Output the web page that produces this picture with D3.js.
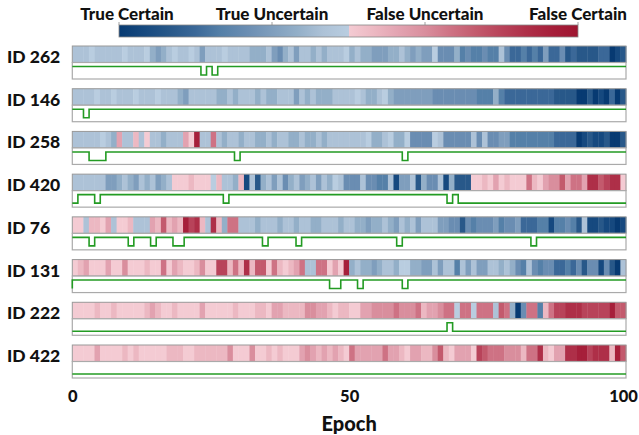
<!DOCTYPE html>
<html>
<head>
<meta charset="UTF-8">
<title>Certainty per epoch</title>
<style>
  body { margin: 0; background: #fff; }
  svg text { font-family: Lato, "DejaVu Sans", sans-serif; font-weight: 900; fill: #111; }
</style>
</head>
<body>
<svg id="chart" width="639" height="435"></svg>
<script src="https://cdnjs.cloudflare.com/ajax/libs/d3/7.8.5/d3.min.js"></script>
<script>
// sample ids, top to bottom
const ids = ["ID 262", "ID 146", "ID 258", "ID 420", "ID 76", "ID 131", "ID 222", "ID 422"];

// legend labels on the colour bar
const legendLabels = ["True Certain", "True Uncertain", "False Uncertain", "False Certain"];
const axisTicks = [0, 50, 100];

// per-epoch certainty level: negative = true (blue), positive = false (red), |v| 1..10 = uncertain..certain
const heat262 = [
  -2,-2,-2,-1,-2,-2,-2,-2,-2,-1, -2,-2,-2,-1,-3,-4,-3,-2,-1,-2,
  -2,-1,-2,-4,-2,-2,-2,-1,-2,-2, -2,-2,-3,-3,-3,-2,-4,-5,-3,-2,
  -4,-2,-2,-3,-2,-3,-2,-2,-2,-1, -3,-2,-3,-3,-4,-4,-4,-3,-3,-2,
  -3,-4,-3,-4,-4,-1,-5,-5,-5,-3, -6,-5,-6,-6,-5,-6,-6,-2,-5,-7,
  -7,-6,-7,-6,-7,-4,-7,-7,-5,-8, -7,-8,-8,-8,-8,-7,-7,-10,-9,-8
];
const heat146 = [
  -2,-2,-2,-2,-1,-2,-2,-1,-2,-2, -2,-1,-2,-2,-2,-1,-2,-2,-2,-3,
  -4,-2,-2,-2,-2,-2,-3,-3,-2,-3, -2,-2,-2,-3,-2,-3,-3,-2,-2,-2,
  -4,-2,-3,-2,-3,-3,-3,-2,-2,-2, -2,-1,-2,-3,-3,-2,-1,-3,-4,-4,
  -4,-4,-4,-4,-4,-5,-5,-5,-5,-5, -5,-5,-5,-6,-6,-6,-3,-6,-7,-7,
  -7,-7,-7,-7,-7,-7,-7,-8,-8,-8, -8,-10,-10,-8,-10,-9,-10,-7,-10,-8
];
const heat258 = [
  -2,-2,-2,-2,-2,-1,-2,-3,3,-2, -2,2,-2,1,-2,-2,-3,-2,-2,-2,
  3,1,9,-2,-2,5,-2,-3,-2,-2, -3,-2,-2,-3,-3,-2,-3,-2,-2,-3,
  -3,-2,-3,-3,-2,-3,-2,-2,-2,-2, -2,-2,-2,-1,-3,-3,-2,-1,-3,-3,
  -1,-5,-5,-5,-5,-1,-2,-5,-5,-5, -5,-5,-2,-5,-2,-5,-5,-4,-4,-6,
  -6,-6,-6,-6,-6,-6,-6,-7,-7,-7, -7,-10,-9,-8,-9,-9,-8,-10,-10,-8
];
const heat420 = [
  -2,-2,-2,-2,-2,-2,-4,-4,-3,-2, -3,-4,-2,-3,-2,-4,-3,-2,1,1,
  1,2,1,1,1,-1,2,-2,-2,-3, 2,-9,-2,-8,-3,-2,-4,-2,-5,-3,
  -2,-4,-3,-2,-4,-2,-3,-1,-2,-5, -5,-5,-2,-5,-5,-6,-6,-2,-9,-4,
  -4,-2,-8,-3,-5,-5,-2,-9,-3,-8, -8,-8,1,1,2,1,3,1,2,1,
  1,1,5,2,1,3,4,4,6,3, 5,5,3,8,8,6,7,8,8,1
];
const heat76 = [
  1,1,-2,2,2,1,3,-2,1,1, 2,-2,-2,-2,3,2,6,2,3,2,
  9,7,8,2,-2,8,2,-3,5,5, -2,-2,-2,-3,-2,-2,-2,-3,-2,-2,
  -3,-2,-2,-3,-3,-2,-2,-2,-3,-2, -2,-3,-3,-4,-3,-3,-2,-3,-4,-2,
  -3,-2,-4,-2,-2,-2,-4,-4,-5,-5, -8,-5,-6,-5,-5,-5,-4,-6,-5,-5,
  -4,-7,-7,-7,-6,-6,-9,-6,-6,-5, -6,-8,-2,-9,-9,-8,-9,-9,-10,-9
];
const heat131 = [
  1,2,3,1,1,1,3,1,1,4, 1,1,1,2,1,1,5,1,3,2,
  1,1,2,4,1,1,7,7,2,5, 2,8,2,6,6,1,5,2,1,2,
  3,5,-2,-2,5,5,1,3,1,9, -3,-2,-3,-3,-4,-3,-2,-2,-3,-1,
  -1,-3,-3,-4,-4,-2,-4,-2,-2,-6, -2,-4,-2,-4,-4,-2,-2,-3,-2,-3,
  -5,-6,-2,-5,-6,-5,-5,-7,-7,-6, -7,-5,-8,-5,-5,-9,-5,-8,-10,-2
];
const heat222 = [
  1,1,1,1,2,1,1,2,1,1, 1,1,1,2,3,2,1,1,2,1,
  1,1,1,3,1,1,1,1,1,2, 1,1,1,2,2,1,3,3,2,2,
  2,2,4,4,3,3,2,1,2,2, 1,1,3,3,4,4,4,4,5,4,
  4,4,5,2,3,3,4,5,5,-1, 5,5,-1,5,5,5,-2,6,5,-3,
  -10,-5,5,5,-6,2,5,7,7,8, 8,8,7,7,7,7,7,9,6,6
];
const heat422 = [
  1,1,1,1,3,1,1,1,1,2, 1,2,1,1,1,1,1,2,2,2,
  1,1,2,2,2,2,2,2,4,1, 1,1,4,1,1,2,1,2,1,1,
  1,3,4,3,2,3,2,3,2,1, 5,3,3,3,3,3,5,3,3,2,
  1,3,3,2,2,4,6,2,1,3, 3,3,1,7,6,5,5,5,4,4,
  4,2,5,5,8,2,1,3,3,8, 8,9,9,7,8,8,8,2,9,6
];

// green step trace per epoch (1 = up, 0 = down)
const trace262 = [
  1,1,1,1,1,1,1,1,1,1, 1,1,1,1,1,1,1,1,1,1,
  1,1,1,1,0,1,0,1,1,1, 1,1,1,1,1,1,1,1,1,1,
  1,1,1,1,1,1,1,1,1,1, 1,1,1,1,1,1,1,1,1,1,
  1,1,1,1,1,1,1,1,1,1, 1,1,1,1,1,1,1,1,1,1,
  1,1,1,1,1,1,1,1,1,1, 1,1,1,1,1,1,1,1,1,1
];
const trace146 = [
  1,1,1,0,1,1,1,1,1,1, 1,1,1,1,1,1,1,1,1,1,
  1,1,1,1,1,1,1,1,1,1, 1,1,1,1,1,1,1,1,1,1,
  1,1,1,1,1,1,1,1,1,1, 1,1,1,1,1,1,1,1,1,1,
  1,1,1,1,1,1,1,1,1,1, 1,1,1,1,1,1,1,1,1,1,
  1,1,1,1,1,1,1,1,1,1, 1,1,1,1,1,1,1,1,1,1
];
const trace258 = [
  1,1,1,1,0,0,0,1,1,1, 1,1,1,1,1,1,1,1,1,1,
  1,1,1,1,1,1,1,1,1,1, 0,1,1,1,1,1,1,1,1,1,
  1,1,1,1,1,1,1,1,1,1, 1,1,1,1,1,1,1,1,1,1,
  0,1,1,1,1,1,1,1,1,1, 1,1,1,1,1,1,1,1,1,1,
  1,1,1,1,1,1,1,1,1,1, 1,1,1,1,1,1,1,1,1,1
];
const trace420 = [
  0,0,1,1,1,0,1,1,1,1, 1,1,1,1,1,1,1,1,1,1,
  1,1,1,1,1,1,1,1,0,1, 1,1,1,1,1,1,1,1,1,1,
  1,1,1,1,1,1,1,1,1,1, 1,1,1,1,1,1,1,1,1,1,
  1,1,1,1,1,1,1,1,0,1, 0,0,0,0,0,0,0,0,0,0,
  0,0,0,0,0,0,0,0,0,0, 0,0,0,0,0,0,0,0,0,0
];
const trace76 = [
  1,1,1,1,0,1,1,1,1,1, 1,0,1,1,1,0,1,1,1,0,
  0,1,1,1,1,1,1,1,1,1, 1,1,1,1,1,0,1,1,1,1,
  1,0,1,1,1,1,1,1,1,1, 1,1,1,1,1,1,1,1,1,0,
  1,1,1,1,1,1,1,1,1,1, 1,1,1,1,1,1,1,1,1,1,
  1,1,1,0,1,1,1,1,1,1, 1,1,1,1,1,1,1,1,1,1
];
const trace131 = [
  0,1,1,1,1,1,1,1,1,1, 1,1,1,1,1,1,1,1,1,1,
  1,1,1,1,1,1,1,1,1,1, 1,1,1,1,1,1,1,1,1,1,
  1,1,1,1,1,1,1,0,0,1, 1,1,0,1,1,1,1,1,1,1,
  0,1,1,1,1,1,1,1,1,1, 1,1,1,1,1,1,1,1,1,1,
  1,1,1,1,1,1,1,1,1,1, 1,1,1,1,1,1,1,1,1,1
];
const trace222 = [
  0,0,0,0,0,0,0,0,0,0, 0,0,0,0,0,0,0,0,0,0,
  0,0,0,0,0,0,0,0,0,0, 0,0,0,0,0,0,0,0,0,0,
  0,0,0,0,0,0,0,0,0,0, 0,0,0,0,0,0,0,0,0,0,
  0,0,0,0,0,0,0,0,1,0, 0,0,0,0,0,0,0,0,0,0,
  0,0,0,0,0,0,0,0,0,0, 0,0,0,0,0,0,0,0,0,0
];
const trace422 = [
  0,0,0,0,0,0,0,0,0,0, 0,0,0,0,0,0,0,0,0,0,
  0,0,0,0,0,0,0,0,0,0, 0,0,0,0,0,0,0,0,0,0,
  0,0,0,0,0,0,0,0,0,0, 0,0,0,0,0,0,0,0,0,0,
  0,0,0,0,0,0,0,0,0,0, 0,0,0,0,0,0,0,0,0,0,
  0,0,0,0,0,0,0,0,0,0, 0,0,0,0,0,0,0,0,0,0
];

const heatRows = [heat262, heat146, heat258, heat420, heat76, heat131, heat222, heat422];
const traceRows = [trace262, trace146, trace258, trace420, trace76, trace131, trace222, trace422];

// colour stops: true certain .. true uncertain | false uncertain .. false certain
const blueLevels = [-10, -9, -8, -7, -6, -5, -4, -3, -2, -1];
const blueColors = ["#073a72", "#16497f", "#285889", "#3b6898", "#5580a8", "#6a8db2", "#7f9ebd", "#93afc8", "#adc2d7", "#b9cde0"];
const redLevels = [1, 2, 3, 4, 5, 6, 7, 8, 9, 10];
const redColors = ["#f4cbd3", "#ecb8c2", "#e2a2b0", "#d98e9d", "#ce7284", "#c35a6d", "#b8435a", "#ae2f48", "#a61f3a", "#9e1530"];

const blueScale = d3.scaleLinear().domain(blueLevels).range(blueColors).clamp(true);
const redScale = d3.scaleLinear().domain(redLevels).range(redColors).clamp(true);
const color = v => v < 0 ? blueScale(v) : redScale(v);

const svg = d3.select("#chart");

const x = d3.scaleLinear().domain([0, 100]).range([72.3, 626]);
const xLine = d3.scaleLinear().domain([0, 99]).range([72.3, 626]);
const yRow = d3.scaleLinear().domain([0, ids.length - 1]).range([46, 345]);
const stripH = 16.5;
const boxH = 16.5;

// colour bar
const cbar = d3.scaleLinear().domain([0, legendLabels.length - 1]).range([119, 578]);
const defs = svg.append("defs");
const grad = defs.append("linearGradient").attr("id", "cbarGrad");
blueLevels.forEach((v, i) => {
  grad.append("stop").attr("offset", (i / 9 * 0.5 * 100) + "%").attr("stop-color", blueColors[i]);
});
redLevels.forEach((v, i) => {
  grad.append("stop").attr("offset", (50 + i / 9 * 0.5 * 100) + "%").attr("stop-color", redColors[i]);
});

svg.append("rect")
  .attr("x", cbar(0)).attr("y", 25)
  .attr("width", cbar(3) - cbar(0)).attr("height", 12)
  .attr("fill", "url(#cbarGrad)")
  .attr("stroke", "#888").attr("stroke-width", 0.8);

const legend = svg.append("g").selectAll("g")
  .data(legendLabels)
  .join("g")
  .attr("transform", (d, i) => `translate(${cbar(i)},0)`);
legend.append("line")
  .attr("y1", 22).attr("y2", 25)
  .attr("stroke", "#888").attr("stroke-width", 0.8);
legend.append("text")
  .attr("y", 19.5)
  .attr("dx", (d, i) => i === 0 ? 8 : 0)
  .attr("text-anchor", "middle")
  .style("font-size", "17px")
  .text(d => d);

// rows
const rows = svg.append("g").selectAll("g")
  .data(ids)
  .join("g")
  .attr("transform", (d, i) => `translate(0,${yRow(i)})`);

rows.append("text")
  .attr("x", 7)
  .attr("y", stripH + 0.5)
  .style("font-size", "17.5px")
  .text(d => d);

rows.each(function (d, r) {
  const g = d3.select(this);

  g.selectAll("rect.cell")
    .data(heatRows[r])
    .join("rect")
    .attr("class", "cell")
    .attr("x", (v, i) => x(i))
    .attr("y", 0)
    .attr("width", (v, i) => x(i + 1) - x(i) + 0.4)
    .attr("height", stripH)
    .attr("fill", v => color(v));

  g.append("rect")
    .attr("x", x(0)).attr("y", 0)
    .attr("width", x(100) - x(0)).attr("height", stripH)
    .attr("fill", "none")
    .attr("stroke", "#999").attr("stroke-width", 1);

  g.append("rect")
    .attr("x", x(0)).attr("y", stripH)
    .attr("width", x(100) - x(0)).attr("height", boxH)
    .attr("fill", "#fff")
    .attr("stroke", "#aaa").attr("stroke-width", 1.2);

  const yTrace = d3.scaleLinear().domain([0, 1]).range([stripH + 12.5, stripH + 4]);
  const line = d3.line()
    .x((v, i) => xLine(i))
    .y(v => yTrace(v))
    .curve(d3.curveStepBefore);

  g.append("path")
    .datum(traceRows[r])
    .attr("d", line)
    .attr("fill", "none")
    .attr("stroke", "#239b23")
    .attr("stroke-width", 1.6);
});

// x axis
const axis = svg.append("g")
  .attr("transform", `translate(0,${yRow(ids.length - 1) + stripH + boxH})`)
  .call(d3.axisBottom(x).tickValues(axisTicks).tickSize(0).tickPadding(12));
axis.select(".domain").remove();
axis.selectAll("text")
  .style("font-size", "16.5px")
  .style("font-family", "Lato, 'DejaVu Sans', sans-serif")
  .style("font-weight", "900")
  .attr("fill", "#111")
  .attr("dx", d => d === 100 ? -3 : 0);

svg.append("text")
  .attr("x", x(50))
  .attr("y", 431)
  .attr("text-anchor", "middle")
  .style("font-size", "20px")
  .text("Epoch");
</script>
</body>
</html>
